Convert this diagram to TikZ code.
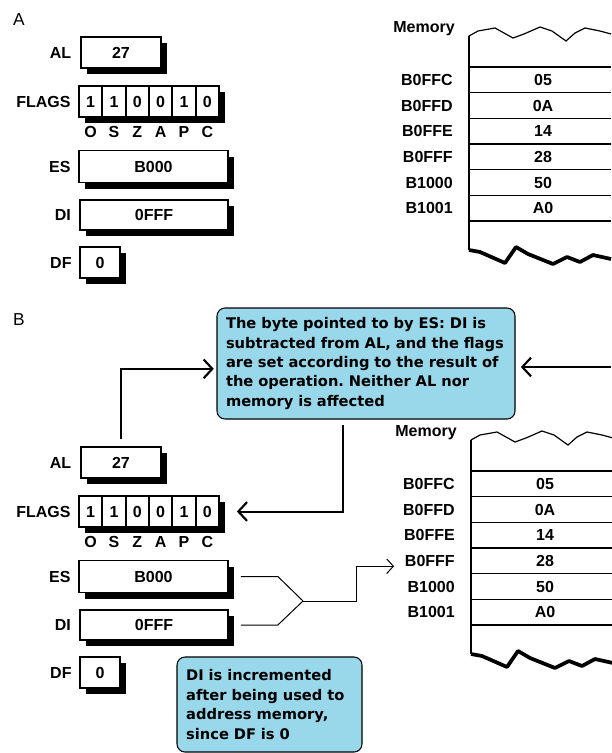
\documentclass[tikz,border=0pt]{standalone}
\usepackage{fontspec}
\setmainfont{Liberation Sans}
\newfontfamily\notefont{DejaVu Sans}
\usepackage{tikz}
\usetikzlibrary{
	arrows.meta,
	calc,
	shadows,
	positioning
}
\definecolor{noteblue}{RGB}{152,216,234}
\frenchspacing

\begin{document}
\begin{tikzpicture}[x=0.75pt, y=-0.75pt,
	regbox/.style={draw, fill=white, line width=1.3pt, inner sep=0pt,
		general shadow={fill=black, shadow xshift=4.5pt, shadow yshift=-4.5pt},
		font=\bfseries\fontsize{12}{14}\selectfont},
	reglabel/.style={font=\bfseries\fontsize{12}{14}\selectfont, inner sep=0pt},
	note/.style={draw, fill=noteblue, rounded corners=6pt, line width=0.8pt,
		align=left, inner sep=0pt, font=\notefont\bfseries\fontsize{11}{14.6}\selectfont},
	chev/.style={line width=1.5pt, -{Straight Barb[length=6.5pt, width=14pt, line width=1.6pt]}},
	wire/.style={line width=0.75pt},
	thinchev/.style={-{Straight Barb[length=5pt, width=11pt, line width=0.75pt]}}
	]
	\useasboundingbox (0,0) rectangle (611,753);
	
	\node[font=\fontsize{13}{15}\selectfont] (tagA) at (19,20) {A};
	\node[font=\fontsize{13}{15}\selectfont] (tagB) at (19,320) {B};
	
	% registers
	\foreach \p/\dy in {A/0, B/410}{
		\node[regbox, minimum width=60pt, minimum height=23.25pt] (al\p) at (121,52.5+\dy) {27};
		\node[reglabel, left=6.5pt of al\p] (alname\p) {AL};
		
		\node[regbox, minimum width=105pt, minimum height=23.25pt] (flags\p) at (149,101.5+\dy) {};
		\node[reglabel, left=5.5pt of flags\p] (flagsname\p) {FLAGS};
		\foreach \b [count=\i] in {1,1,0,0,1,0}
			\node[reglabel] (bit\p\i) at (79+23.33*\i-11.67,101.5+\dy) {\b};
		\foreach \i in {1,...,5}
			\draw[line width=1.3pt] (79+23.33*\i,86+\dy) -- (79+23.33*\i,117+\dy);
		\foreach \f [count=\i] in {O,S,Z,A,P,C}
			\node[reglabel] (flag\p\i) at (79+23.33*\i-11.67,132+\dy) {\f};
		
		\node[regbox, minimum width=111.75pt, minimum height=24pt] (es\p) at (153.5,166.5+\dy) {B000};
		\node[reglabel, left=5.5pt of es\p] (esname\p) {ES};
		
		\node[regbox, minimum width=111pt, minimum height=22.5pt] (di\p) at (154,215+\dy) {0FFF};
		\node[reglabel, left=6pt of di\p] (diname\p) {DI};
		
		\node[regbox, minimum width=30pt, minimum height=23.25pt] (df\p) at (100,262.5+\dy) {0};
		\node[reglabel, left=5.5pt of df\p] (dfname\p) {DF};
	}
	
	% memory
	\foreach \p/\dx/\dy in {A/0/0, B/2/404}{
		\begin{scope}[shift={(\dx,\dy)}]
			\node[reglabel] (memname\p) at (424,29) {Memory};
			\draw[line width=0.9pt] (469,36) -- (478,31) -- (495,28) -- (513,38) -- (524,34)
				-- (540,27) -- (552,31) -- (566,41) -- (575,33) -- (585,28) -- (600,31) -- (611,34);
			\draw[line width=1.3pt] (469,36) -- (469,250);
			\draw[line width=2.8pt, line join=round] (469,250) -- (480,252) -- (505,263) -- (516,247)
				-- (528,254) -- (553,264) -- (567,257) -- (580,262) -- (593,255) -- (611,259);
			\foreach \k in {0,...,6}
				\draw[line width=1pt] (469,67+25.67*\k) -- (611,67+25.67*\k);
			\foreach \addr/\val [count=\k] in {B0FFC/05, B0FFD/0A, B0FFE/14, B0FFF/28, B1000/50, B1001/A0}{
				\node[reglabel, anchor=east] (addr\p\k) at (453,67+25.67*\k-12.8) {\addr};
				\node[reglabel] (cell\p\k) at (543,67+25.67*\k-12.8) {\val};
			}
		\end{scope}
	}
	
	% notes
	\node[note, minimum width=223.5pt, minimum height=83.25pt, text width=210pt] (noteop) at (366,363.5)
		{The byte pointed to by ES: DI is\\ subtracted from AL, and the flags\\ are set according to the result of\\ the operation. Neither AL nor\\ memory is affected};
	\node[note, minimum width=138.75pt, minimum height=71.25pt, text width=125pt] (noteinc) at (269.5,704.5)
		{DI is incremented\\ after being used to\\ address memory,\\ since DF is 0};
	
	% arrows
	\draw[chev, shorten <=5pt, shorten >=2pt] (alB.north) |- ([yshift=-4pt]noteop.west);
	\coordinate (memedge) at (611,367);
	\draw[chev, shorten >=4pt] (memedge) -- (noteop.east |- memedge);
	\draw[chev, shorten <=4pt, shorten >=12.75pt] ([xshift=-17.25pt]noteop.south) |- (flagsB.east);
	
	\coordinate (join) at (303,601);
	\draw[wire] ([xshift=9pt]esB.east) -- ++(37,0) -- (join);
	\draw[wire] ([xshift=9pt]diB.east) -- ++(37,0) -- (join);
	\draw[wire, thinchev] (join) -- ++(53,0) |- ([xshift=-8pt,yshift=-4pt]addrB4.west);
\end{tikzpicture}
\end{document}
